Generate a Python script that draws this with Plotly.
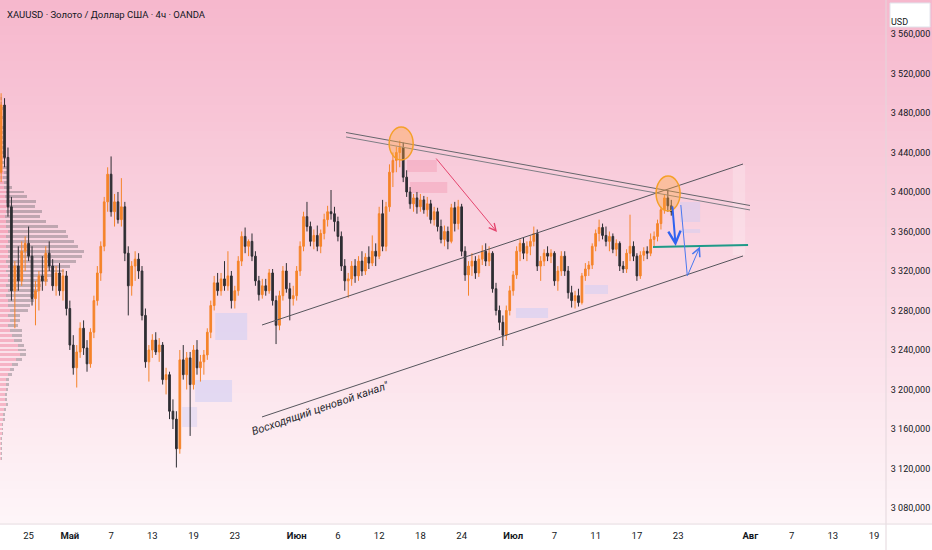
import plotly.graph_objects as go

# XAUUSD candles, 3 bars per trading day (day index 0 = Apr 21), first bar on Apr 22
opens = [
    3420, 3488,
    3435, 3385, 3300,  3325, 3310, 3340,  3348, 3335, 3292,
    3300, 3315, 3310,  3338, 3325, 3305,  3318, 3300, 3315,  3282, 3245, 3222,  3238, 3262, 3242,
    3226, 3258, 3290,  3318, 3345, 3390,  3418, 3380, 3390,  3372, 3385, 3338,  3305, 3325, 3332,
    3320, 3275, 3228,  3240, 3250, 3238,  3245, 3210, 3215,  3178, 3170, 3140,  3230, 3215, 3232,
    3205, 3240, 3222,  3228, 3235, 3258,  3285, 3308, 3300,  3312, 3305, 3315,  3290, 3300, 3330,
    3355, 3345, 3350,  3335, 3310, 3296,  3305, 3300, 3318,  3290, 3265, 3295,  3320, 3302, 3292,
    3295, 3320, 3345,  3375, 3365, 3350,  3356, 3345, 3358,  3372, 3380, 3378,  3370, 3355, 3325,
    3310, 3312, 3325,  3315, 3330, 3320,  3334, 3328, 3340,  3335, 3378, 3345,  3385, 3420, 3432,
    3440, 3445, 3415,  3400, 3388, 3394,  3385, 3392, 3382,  3388, 3372, 3380,  3365, 3352, 3360,
    3350, 3384, 3368,  3385, 3340, 3316,  3325, 3330, 3318,  3332, 3340, 3330,  3338, 3302, 3280,
    3268, 3255, 3280,  3300, 3316, 3340,  3348, 3338, 3345,  3350, 3358, 3325,  3330, 3338, 3335,
    3338, 3310, 3320,  3335, 3320, 3298,  3290, 3295, 3288,  3315, 3322, 3326,  3345, 3358, 3364,
    3356, 3350, 3355,  3342, 3348, 3325,  3322, 3338, 3345,  3335, 3315, 3336,  3340, 3338, 3352,
    3355, 3368, 3382,  3394, 3386,
]
highs = [
    3500, 3495,
    3445, 3395, 3330,  3345, 3350, 3355,  3365, 3345, 3310,
    3320, 3335, 3345,  3350, 3332, 3325,  3328, 3322, 3320,  3290, 3255, 3245,  3268, 3270, 3250,
    3262, 3295, 3325,  3350, 3395, 3425,  3436, 3398, 3400,  3414, 3390, 3345,  3330, 3340, 3338,
    3325, 3282, 3245,  3256, 3258, 3252,  3248, 3222, 3218,  3190, 3178, 3240,  3245, 3238, 3238,
    3245, 3250, 3235,  3240, 3262, 3290,  3315, 3318, 3318,  3330, 3340, 3320,  3305, 3335, 3360,
    3364, 3352, 3358,  3340, 3315, 3312,  3312, 3322, 3322,  3295, 3300, 3325,  3328, 3308, 3305,
    3325, 3350, 3380,  3390, 3370, 3362,  3366, 3362, 3378,  3386, 3402, 3385,  3375, 3360, 3332,
    3318, 3330, 3332,  3335, 3340, 3338,  3345, 3356, 3348,  3385, 3392, 3390,  3428, 3440, 3446,
    3452, 3450, 3422,  3405, 3398, 3400,  3398, 3396, 3395,  3392, 3385, 3384,  3372, 3366, 3365,
    3388, 3390, 3392,  3388, 3345, 3330,  3338, 3335, 3336,  3346, 3348, 3345,  3340, 3308, 3285,
    3275, 3285, 3305,  3320, 3345, 3352,  3354, 3350, 3356,  3365, 3362, 3335,  3342, 3345, 3342,
    3340, 3325, 3340,  3340, 3325, 3305,  3300, 3302, 3318,  3328, 3330, 3348,  3362, 3372, 3368,
    3365, 3360, 3358,  3352, 3350, 3330,  3342, 3377, 3350,  3338, 3340, 3344,  3345, 3358, 3360,
    3372, 3385, 3398,  3402, 3392,
]
lows = [
    3410, 3425,
    3375, 3290, 3262,  3300, 3305, 3320,  3330, 3285, 3265,
    3280, 3300, 3305,  3320, 3300, 3295,  3295, 3290, 3275,  3240, 3215, 3202,  3232, 3235, 3218,
    3222, 3252, 3285,  3310, 3340, 3380,  3375, 3365, 3368,  3365, 3330, 3275,  3295, 3310, 3312,
    3270, 3222, 3208,  3232, 3235, 3228,  3205, 3195, 3170,  3160, 3121, 3135,  3210, 3200, 3153,
    3200, 3215, 3208,  3215, 3230, 3252,  3280, 3295, 3295,  3300, 3300, 3282,  3282, 3295, 3325,
    3338, 3335, 3330,  3305, 3290, 3292,  3295, 3297, 3285,  3246, 3260, 3290,  3298, 3270, 3285,
    3290, 3315, 3340,  3360, 3345, 3342,  3340, 3338, 3352,  3365, 3372, 3360,  3350, 3320, 3300,
    3293, 3305, 3308,  3310, 3315, 3316,  3322, 3325, 3325,  3332, 3340, 3340,  3380, 3405, 3420,
    3425, 3410, 3395,  3383, 3380, 3378,  3380, 3378, 3375,  3368, 3366, 3360,  3348, 3345, 3342,
    3348, 3360, 3362,  3335, 3310, 3295,  3315, 3312, 3314,  3326, 3325, 3325,  3298, 3275, 3260,
    3244, 3250, 3275,  3295, 3312, 3330,  3332, 3330, 3336,  3345, 3320, 3310,  3325, 3330, 3328,
    3305, 3300, 3315,  3315, 3292, 3283,  3282, 3284, 3286,  3310, 3315, 3322,  3340, 3350, 3352,
    3345, 3340, 3338,  3335, 3320, 3318,  3318, 3330, 3330,  3310, 3312, 3330,  3332, 3335, 3345,
    3350, 3362, 3378,  3380, 3376,
]
closes = [
    3488, 3435,
    3385, 3300, 3325,  3310, 3340, 3348,  3335, 3292, 3300,
    3315, 3310, 3338,  3325, 3305, 3318,  3300, 3315, 3282,  3245, 3222, 3238,  3262, 3242, 3226,
    3258, 3290, 3318,  3345, 3390, 3418,  3380, 3390, 3372,  3385, 3338, 3305,  3325, 3332, 3320,
    3275, 3228, 3240,  3250, 3238, 3245,  3210, 3215, 3178,  3170, 3140, 3230,  3215, 3232, 3205,
    3240, 3222, 3228,  3235, 3258, 3285,  3308, 3300, 3312,  3305, 3315, 3290,  3300, 3330, 3355,
    3345, 3350, 3335,  3310, 3296, 3305,  3300, 3318, 3290,  3265, 3295, 3320,  3302, 3292, 3295,
    3320, 3345, 3375,  3365, 3350, 3356,  3345, 3358, 3372,  3380, 3378, 3370,  3355, 3325, 3310,
    3312, 3325, 3315,  3330, 3320, 3334,  3328, 3340, 3335,  3378, 3345, 3385,  3420, 3432, 3440,
    3445, 3415, 3400,  3388, 3394, 3385,  3392, 3382, 3388,  3372, 3380, 3365,  3352, 3360, 3350,
    3384, 3368, 3385,  3340, 3316, 3325,  3330, 3318, 3332,  3340, 3330, 3338,  3302, 3280, 3268,
    3255, 3280, 3300,  3316, 3340, 3348,  3338, 3345, 3350,  3358, 3325, 3330,  3338, 3335, 3338,
    3310, 3320, 3335,  3320, 3298, 3290,  3295, 3288, 3315,  3322, 3326, 3345,  3358, 3364, 3356,
    3350, 3355, 3342,  3348, 3325, 3322,  3338, 3345, 3335,  3315, 3336, 3340,  3338, 3352, 3355,
    3368, 3382, 3394,  3386, 3380,
]

# visible range volume profile (price level, down part pink, rest gray)
vp_levels = list(range(3130, 3500, 5))
vp_pink = [1, 1, 1, 1, 1, 2, 2, 2, 3, 3, 4, 6, 5, 5, 6, 6, 6, 8, 10, 12, 16, 20, 18, 18,
           14, 12, 10, 8, 10, 8, 10, 8, 8, 6, 8, 6, 8, 8, 6, 8, 6, 8, 8, 6, 8, 6, 8, 6,
           6, 5, 6, 7, 6, 5, 6, 4, 4, 3, 4, 3, 2, 3, 2, 2, 2, 1, 2, 2, 1, 2, 1, 2, 1, 1]
vp_gray = [1, 1, 1, 1, 1, 1, 1, 1, 2, 2, 2, 2, 2, 2, 2, 3, 3, 4, 4, 6, 6, 6, 8, 6,
           8, 10, 12, 10, 10, 12, 18, 22, 26, 28, 30, 35, 40, 44, 58, 62, 70, 74, 76, 72, 66, 62, 58, 52,
           40, 35, 36, 28, 30, 22, 18, 8, 4, 5, 3, 4, 3, 3, 2, 2, 2, 2, 1, 2, 1, 1, 1, 1, 1, 1]

# time axis labels (trading-day index)
date_ticks = [4, 8, 12, 16, 20, 24, 30, 34, 38, 42, 46, 51, 55, 59, 63, 67, 74, 78, 82, 86]
date_labels = ["25", "<b>Май</b>", "7", "13", "19", "23", "<b>Июн</b>", "6", "12", "18", "24",
               "<b>Июл</b>", "7", "11", "17", "23", "<b>Авг</b>", "7", "13", "19"]
price_ticks = list(range(3080, 3561, 40))
price_labels = ["{} {:03d},000".format(p // 1000, p % 1000) for p in price_ticks]

bar_x = [1 + (i + 1) / 3 for i in range(len(closes))]

FONT = "Roboto, Liberation Sans, sans-serif"

fig = go.Figure()

fig.add_trace(go.Bar(y=vp_levels, x=vp_pink, orientation="h", width=3.0,
                     marker=dict(color="rgba(238,110,140,0.40)", line_width=0),
                     xaxis="x", yaxis="y", hoverinfo="skip", showlegend=False))
fig.add_trace(go.Bar(y=vp_levels, x=vp_gray, orientation="h", width=3.0,
                     marker=dict(color="rgba(90,90,95,0.36)", line_width=0),
                     xaxis="x", yaxis="y", hoverinfo="skip", showlegend=False))

fig.add_trace(go.Candlestick(
    x=bar_x, open=opens, high=highs, low=lows, close=closes,
    xaxis="x2", yaxis="y",
    increasing=dict(line=dict(color="#F5842A", width=1), fillcolor="#F5842A"),
    decreasing=dict(line=dict(color="#2E2E33", width=1), fillcolor="#2E2E33"),
    showlegend=False, hoverinfo="skip",
))

shapes = []
# pink -> white background gradient (plot area + price scale column)
n_strips = 60
top_rgb, bot_rgb = (246, 184, 205), (254, 245, 248)
for i in range(n_strips):
    t = i / (n_strips - 1)
    col = tuple(round(a + (b - a) * t) for a, b in zip(top_rgb, bot_rgb))
    shapes.append(dict(type="rect", xref="paper", yref="paper", layer="below",
                       x0=0, x1=1.06, y0=1 - (i + 1) / n_strips - 0.002, y1=1 - i / n_strips,
                       fillcolor="rgb({},{},{})".format(*col), line_width=0))

# separators of price and time scale
shapes.append(dict(type="line", xref="paper", yref="paper", x0=1, x1=1, y0=-0.06, y1=1,
                   line=dict(color="#E3D7DC", width=1)))
shapes.append(dict(type="line", xref="paper", yref="paper", x0=0, x1=1.06, y0=0, y1=0,
                   line=dict(color="#E6E0E3", width=1)))

# lavender / pink zones
zones = [
    (22.1, 25.2, 3250.1, 3277.5, "rgba(205,205,245,0.55)"),
    (20.15, 23.73, 3187.3, 3209.6, "rgba(205,205,245,0.55)"),
    (18.89, 20.34, 3162.0, 3182.3, "rgba(205,205,245,0.40)"),
    (51.27, 54.38, 3272.4, 3282.5, "rgba(205,205,245,0.55)"),
    (57.96, 60.19, 3296.7, 3305.8, "rgba(205,205,245,0.50)"),
    (67.19, 69.13, 3369.6, 3389.9, "rgba(205,205,245,0.45)"),
    (67.19, 69.13, 3358.5, 3362.5, "rgba(205,205,245,0.45)"),
    (40.7, 43.6, 3420.2, 3432.4, "rgba(240,140,170,0.35)"),
    (41.0, 44.6, 3399.0, 3410.1, "rgba(240,140,170,0.35)"),
    (72.3, 73.5, 3336.0, 3427.0, "rgba(255,255,255,0.22)"),
]
for x0, x1, y0, y1, c in zones:
    shapes.append(dict(type="rect", xref="x2", yref="y", x0=x0, x1=x1, y0=y0, y1=y1,
                       fillcolor=c, line_width=0, layer="below"))

# ascending channel
shapes.append(dict(type="line", xref="x2", yref="y", x0=26.64, y0=3265.3, x1=73.29, y1=3428.3,
                   line=dict(color="#55555c", width=1)))
shapes.append(dict(type="line", xref="x2", yref="y", x0=26.64, y0=3172.2, x1=73.29, y1=3335.2,
                   line=dict(color="#55555c", width=1)))
# descending double line
shapes.append(dict(type="line", xref="x2", yref="y", x0=34.79, y0=3460.2, x1=73.97, y1=3386.3,
                   line=dict(color="#66666c", width=1)))
shapes.append(dict(type="line", xref="x2", yref="y", x0=34.79, y0=3455.7, x1=73.97, y1=3381.8,
                   line=dict(color="#7e7e85", width=1)))
# orange circles
for x0, x1, y0, y1 in [(38.97, 41.3, 3432.4, 3465.8), (64.86, 67.19, 3380.8, 3416.2)]:
    shapes.append(dict(type="circle", xref="x2", yref="y", x0=x0, x1=x1, y0=y0, y1=y1,
                       fillcolor="rgba(255,165,60,0.38)", line=dict(color="#F5A02A", width=1.5)))
# green level
shapes.append(dict(type="line", xref="x2", yref="y", x0=64.56, y0=3344.3, x1=73.78, y1=3346.3,
                   line=dict(color="#1E9A88", width=2)))
# thin blue leg down
shapes.append(dict(type="line", xref="x2", yref="y", x0=67.26, y0=3386.8, x1=67.89, y1=3314.9,
                   line=dict(color="#4A78F0", width=1)))
# USD box
shapes.append(dict(type="rect", xref="paper", yref="paper", x0=1.0045, x1=1.0497, y0=0.9485, y1=0.9943,
                   fillcolor="white", line=dict(color="#E0E3EB", width=1)))

annotations = [
    dict(text="XAUUSD · Золото / Доллар США · 4ч · OANDA", xref="paper", yref="paper",
         x=0.0056, y=1 - 15 / 524, xanchor="left", yanchor="middle", showarrow=False,
         font=dict(size=9.5, color="#131722", family=FONT)),
    dict(text="USD", xref="paper", yref="paper", x=1.0271, y=1 - 15 / 524, showarrow=False,
         font=dict(size=9, color="#131722", family=FONT)),
    dict(text='<i>Восходящий ценовой канал"</i>', xref="x2", yref="y", x=32.3, y=3181,
         textangle=-19, showarrow=False, font=dict(size=11, color="#2a2a30", family=FONT)),
    # arrows
    dict(text="", xref="x2", yref="y", axref="x2", ayref="y", x=49.43, y=3359.5, ax=43.41, ay=3435.4,
         showarrow=True, arrowhead=5, arrowsize=1.4, arrowwidth=1, arrowcolor="#E5456E"),
    dict(text="", xref="x2", yref="y", axref="x2", ayref="y", x=66.76, y=3345.3, ax=66.43, ay=3386.8,
         showarrow=True, arrowhead=5, arrowsize=1.2, arrowwidth=2, arrowcolor="#2F62F0"),
    dict(text="", xref="x2", yref="y", axref="x2", ayref="y", x=69.12, y=3344.8, ax=67.89, ay=3314.9,
         showarrow=True, arrowhead=5, arrowsize=1.6, arrowwidth=1, arrowcolor="#4A78F0"),
]

fig.update_layout(
    width=932, height=550, autosize=False,
    margin=dict(l=0, r=46, t=0, b=26),
    paper_bgcolor="white", plot_bgcolor="rgba(0,0,0,0)",
    font=dict(family=FONT, size=10, color="#131722"),
    barmode="stack", bargap=0,
    shapes=shapes, annotations=annotations,
    xaxis=dict(range=[0, 886], visible=False, fixedrange=True),
    xaxis2=dict(overlaying="x", side="bottom", range=[1.226, 87.16],
                tickvals=date_ticks, ticktext=date_labels, showgrid=False, zeroline=False,
                showline=False, ticks="outside", ticklen=3, tickcolor="rgba(0,0,0,0)",
                tickfont=dict(size=9.5, color="#131722"), rangeslider=dict(visible=False)),
    yaxis=dict(side="right", range=[3063.8, 3594.4], tickvals=price_ticks, ticktext=price_labels,
               showgrid=False, zeroline=False, showline=False, ticks="outside", ticklen=2,
               tickcolor="rgba(0,0,0,0)", tickfont=dict(size=9, color="#131722")),
)

fig.write_html("out.html", config={"displayModeBar": False},
               post_script="document.body.style.margin='0';")
